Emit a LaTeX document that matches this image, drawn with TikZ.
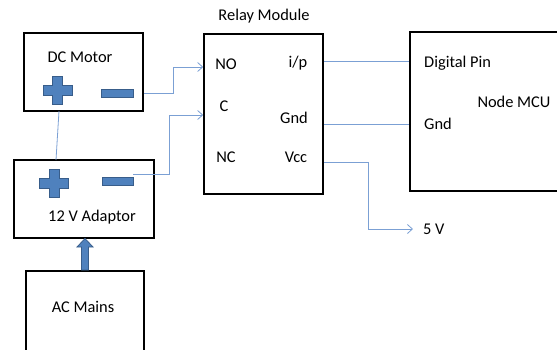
\documentclass[tikz,border=0pt]{standalone}
\usepackage{fontspec}
\setmainfont{Carlito}
\usetikzlibrary{arrows.meta}
\definecolor{wire}{HTML}{7BA0D4}
\definecolor{signfill}{HTML}{4F81BD}
\definecolor{signline}{HTML}{385D8A}
\begin{document}
\begin{tikzpicture}[x=1pt,y=-1pt,
  box/.style={draw=black,line width=1.6pt,rectangle,inner sep=0pt,fill=white},
  lbl/.style={inner sep=0pt,font=\fontsize{16.4}{19}\selectfont},
  wireline/.style={draw=wire,line width=0.8pt},
  wirearrow/.style={wireline,-{Straight Barb[length=5pt,width=9pt,line width=0.8pt]}},
  signshape/.style={fill=signfill,draw=signline,line width=0.9pt}]
\useasboundingbox (0,0) rectangle (557,349);
\clip (0,0) rectangle (557,349);
% boxes
\node[box,minimum width=119pt,minimum height=78pt] (motor) at (83.5,72) {};
\node[box,minimum width=140pt,minimum height=78pt] (adaptor) at (84,199) {};
\node[box,minimum width=118pt,minimum height=86pt] (mains) at (85,314) {};
\node[box,minimum width=119pt,minimum height=160pt] (relay) at (263.5,114) {};
\node[box,minimum width=160pt,minimum height=159pt] (mcu) at (490,111.5) {};
% texts
\node[lbl] (tmotor) at (80,57) {DC Motor};
\node[lbl] (tadaptor) at (92,217) {12 V Adaptor};
\node[lbl] (tmains) at (83,307) {AC Mains};
\node[lbl] (trelay) at (264,16) {Relay Module};
\node[lbl] (tno) at (226,64) {NO};
\node[lbl] (tc) at (224,106) {C};
\node[lbl] (tnc) at (226,157) {NC};
\node[lbl] (tip) at (298,63) {i/p};
\node[lbl] (tgnd) at (294,118) {Gnd};
\node[lbl] (tvcc) at (296,157) {Vcc};
\node[lbl,anchor=west] (tdig) at (424,63) {Digital Pin};
\node[lbl,anchor=west] (tmgnd) at (424,124) {Gnd};
\node[lbl] (tnode) at (514,102) {Node MCU};
\node[lbl,anchor=west] (t5v) at (423,229) {5 V};
% plus / minus signs
\newcommand{\plussign}[2]{%
  \path[signshape] (#1-14.5,#2-5) -- (#1-5,#2-5) -- (#1-5,#2-14) -- (#1+5,#2-14) -- (#1+5,#2-5)
   -- (#1+14.5,#2-5) -- (#1+14.5,#2+5) -- (#1+5,#2+5) -- (#1+5,#2+14) -- (#1-5,#2+14)
   -- (#1-5,#2+5) -- (#1-14.5,#2+5) -- cycle;}
\plussign{57.5}{90}
\plussign{54}{183}
\path[signshape] (101,89) rectangle (133,97);
\path[signshape] (102,177) rectangle (133,185);
% connectors
\coordinate (mright) at (motor.east |- 0,93);
\coordinate (noin) at (relay.west |- 0,67);
\draw[wirearrow] (mright) -- (173,93) -- (173,67) -- (noin);
\coordinate (aminus) at (133,174);
\coordinate (cin) at (relay.west |- 0,115);
\draw[wirearrow] (aminus) -- (169,174) -- (169,115) -- (cin);
\coordinate (mbot) at (59,111);
\coordinate (atop) at (56,160);
\draw[wireline] (mbot) -- (atop);
\draw[wireline] (relay.east |- 0,61) -- (mcu.west |- 0,61);
\draw[wireline] (relay.east |- 0,124) -- (mcu.west |- 0,124);
\coordinate (fivev) at (413,229);
\draw[wirearrow] (relay.east |- 0,162) -- (368,162) -- (368,229) -- (fivev);
% thick arrow from mains to adaptor
\path[signshape,line width=0.8pt] (81.5,270) -- (81.5,247) -- (77,247) -- (85,238.5) -- (93,247) -- (88.5,247) -- (88.5,270) -- cycle;
\end{tikzpicture}
\end{document}
